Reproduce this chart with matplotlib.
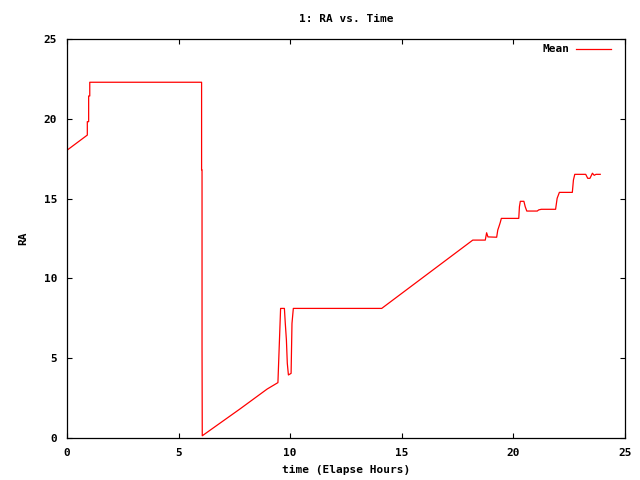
import matplotlib
matplotlib.use("Agg")
import matplotlib.pyplot as plt

plt.rcParams['font.family'] = ['DejaVu Sans Mono']
plt.rcParams['font.weight'] = 'bold'

time_hours = [0.0, 0.91, 0.91, 0.97, 0.97, 1.02, 1.02, 5.97, 6.03, 6.03, 6.05, 6.05, 6.06,
              7.75, 8.97, 9.45, 9.48, 9.57, 9.74, 9.78, 9.83, 9.87, 9.92, 10.04,
              10.08, 10.14, 14.1, 18.18, 18.74, 18.8, 18.86, 19.25, 19.3, 19.36,
              19.41, 19.46, 20.24, 20.27, 20.31, 20.47, 20.53, 20.6, 21.07, 21.13,
              21.25, 21.89, 21.96, 22.06, 22.64, 22.69, 22.75, 23.24, 23.33, 23.43,
              23.54, 23.62, 23.7, 23.89]
ra_mean = [18.03, 18.98, 19.82, 19.82, 21.43, 21.43, 22.29, 22.29, 22.29, 16.8, 16.8, 5.72, 0.14,
           1.82, 3.07, 3.47, 4.64, 8.12, 8.12, 7.18, 6.14, 4.68, 3.95, 4.05,
           7.18, 8.12, 8.12, 12.4, 12.4, 12.86, 12.6, 12.58, 13.03, 13.28,
           13.5, 13.76, 13.76, 14.49, 14.83, 14.83, 14.49, 14.22, 14.22, 14.29,
           14.33, 14.33, 15.02, 15.39, 15.39, 16.17, 16.52, 16.52, 16.27, 16.27,
           16.59, 16.46, 16.52, 16.52]

x_ticks = [0, 5, 10, 15, 20, 25]
y_ticks = [0, 5, 10, 15, 20, 25]

fig = plt.figure(figsize=(6.4, 4.8), dpi=100)
ax = fig.add_axes([67/640, 1-438/480, (625-67)/640, (438-39)/480])
ax.plot(time_hours, ra_mean, color='#ff0000', linewidth=0.9, label='Mean')
ax.set_xlim(0, 25)
ax.set_ylim(0, 25)
ax.set_xticks(x_ticks)
ax.set_yticks(y_ticks)
ax.tick_params(direction='in', length=3.5, width=0.8, top=True, right=True,
               labelsize=8, pad=7)
for s in ax.spines.values():
    s.set_linewidth(0.9)
ax.set_title('1: RA vs. Time', fontsize=8, fontweight='bold', pad=12)
ax.set_xlabel('time (Elapse Hours)', fontsize=8, fontweight='bold', labelpad=5)
ax.set_ylabel('RA', fontsize=8, fontweight='bold', labelpad=11)
ax.legend(loc='upper right', bbox_to_anchor=(1.0, 1.0 + 9/399), frameon=False,
          markerfirst=False, fontsize=8,
          handlelength=3.1, borderaxespad=0.9, handletextpad=0.6)
fig.savefig('out.png', dpi=100)
